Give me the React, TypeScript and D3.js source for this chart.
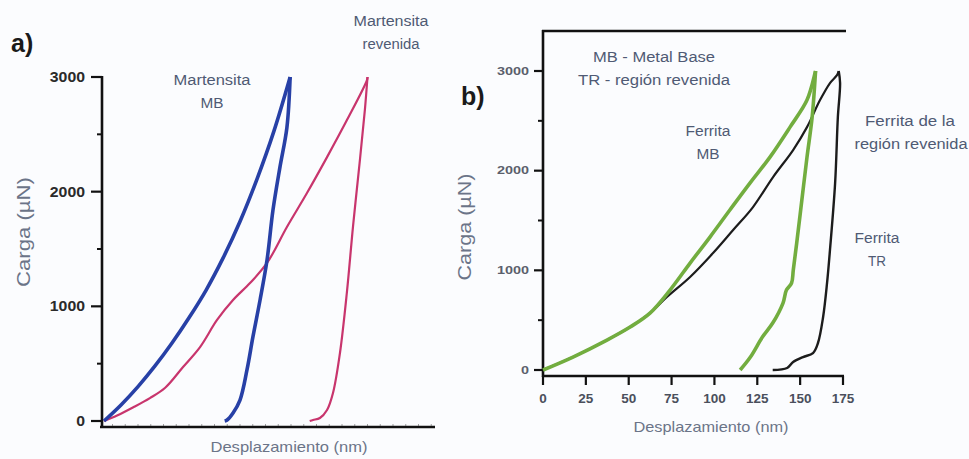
import React from "react";
import * as d3 from "d3";

// ---- Data (depth nm, load µN) ----
// Panel a)
const martMBLoad: [number, number][] = [
  [0, 0], [10, 140], [20, 300], [30, 480], [40, 680], [50, 900], [60, 1140], [70, 1420],
  [80, 1740], [90, 2110], [100, 2530], [109.5, 3000],
];
const martMBUnload: [number, number][] = [
  [109.5, 3000], [107.6, 2560], [103.5, 2214], [99.4, 1840], [95.9, 1404], [91.8, 1055],
  [87.6, 733], [84.1, 445], [80, 183], [75.9, 70], [72.4, 9], [71, 0],
];
const martRevLoad: [number, number][] = [
  [0, 0], [8, 50], [17, 118], [27, 200], [36, 290], [46.5, 471], [56.5, 645], [66.5, 881],
  [75.9, 1055], [85.9, 1203], [95.9, 1378], [107.6, 1692], [119.4, 1988], [131.2, 2301],
  [142.9, 2624], [154.7, 2973], [155, 3000],
];
const martRevUnload: [number, number][] = [
  [155, 3000], [153.5, 2720], [150.6, 2285], [146.5, 1700], [142.9, 1125], [138.8, 593],
  [134.7, 244], [131.2, 96], [127, 26], [123, 9], [121, 0],
];
// Panel b)
const ferrMBLoad: [number, number][] = [
  [0, 0], [17.5, 130], [37.3, 300], [50.8, 431], [62.4, 571], [74.1, 802], [85.8, 1073],
  [97.4, 1334], [109, 1605], [120.7, 1875], [132.4, 2136], [144.1, 2437], [154, 2708],
  [158.7, 2979], [159, 3000],
];
const ferrMBUnload: [number, number][] = [
  [159, 3000], [157, 2538], [154, 2136], [151, 1705], [148, 1274], [146, 1003], [145, 873],
  [142, 802], [140, 672], [134, 471], [128, 331], [121, 130], [115, 0],
];
const ferrTRLoad: [number, number][] = [
  [0, 0], [17.5, 130], [37.3, 300], [50.8, 431], [62.4, 571], [72.3, 732], [85.8, 933],
  [99.2, 1173], [110.9, 1404], [122.5, 1635], [134.2, 1936], [145.9, 2207], [154, 2437],
  [161.6, 2708], [167.4, 2879], [171.5, 2959], [172.5, 3000],
];
const ferrTRUnload: [number, number][] = [
  [172.5, 3000], [173.3, 2879], [172, 2538], [170.4, 1875], [167.4, 1204], [165.7, 873],
  [163.4, 532], [160.4, 271], [157.5, 170], [151.7, 130], [145.9, 80], [142.4, 20], [134, 0],
];

const yTicks = [0, 1000, 2000, 3000];
const yMinorTicks = [500, 1500, 2500];
const xTicksB = [0, 25, 50, 75, 100, 125, 150, 175];

const AXIS_TITLE = "#6b7488";
const NOTE = "#4f5a74";
const FONT = "Liberation Sans, Arial, sans-serif";

type NoteProps = { x: number; y: number; w: number; s?: number; fill?: string; children: string };
function Note({ x, y, w, s = 14, fill = NOTE, children }: NoteProps) {
  return (
    <text x={x} y={y} textAnchor="middle" fontSize={s} fill={fill} textLength={w} lengthAdjust="spacingAndGlyphs">
      {children}
    </text>
  );
}

export default function App() {
  const xa = d3.scaleLinear().domain([0, 195]).range([104, 435.5]);
  const ya = d3.scaleLinear().domain([0, 3000]).range([421, 77]);
  const xb = d3.scaleLinear().domain([0, 175]).range([543, 843]);
  const yb = d3.scaleLinear().domain([0, 3000]).range([370, 71]);

  const la = d3.line<[number, number]>().x(d => xa(d[0])).y(d => ya(d[1])).curve(d3.curveCatmullRom);
  const lb = d3.line<[number, number]>().x(d => xb(d[0])).y(d => yb(d[1])).curve(d3.curveCatmullRom);

  const xaMinor = d3.range(5, 195, 7.5);

  return (
    <svg width={969} height={459} style={{ position: "absolute", left: 0, top: 0, background: "#fbfcfe" }} fontFamily={FONT}>
      {/* Panel a */}
      <text x={11} y={52} fontSize={25} fontWeight="bold" fill="#1a1a1a">a)</text>
      <line x1={102} x2={102} y1={76} y2={428} stroke="#111" strokeWidth={2.6} />
      <line x1={100} x2={435} y1={427} y2={427} stroke="#111" strokeWidth={2.6} />
      {xaMinor.map(t => (
        <line key={"xm" + t} x1={xa(t)} x2={xa(t)} y1={426} y2={424} stroke="#333" strokeWidth={1} opacity={0.45} />
      ))}
      {yTicks.map(t => (
        <g key={"ya" + t}>
          <line x1={91} x2={102} y1={ya(t)} y2={ya(t)} stroke="#111" strokeWidth={2.2} />
          <text x={85} y={ya(t)} dy="0.36em" textAnchor="end" fontSize={14} fontWeight="bold" fill="#2a2a2a"
            textLength={String(t).length * 8.8} lengthAdjust="spacingAndGlyphs">{t}</text>
        </g>
      ))}
      {yMinorTicks.map(t => (
        <line key={"yam" + t} x1={97} x2={102} y1={ya(t)} y2={ya(t)} stroke="#111" strokeWidth={2} />
      ))}
      <text transform={`translate(30,232) rotate(-90)`} textAnchor="middle" fontSize={18} fill={AXIS_TITLE}
        textLength={110} lengthAdjust="spacingAndGlyphs">Carga (µN)</text>
      <Note x={289} y={452} w={157} s={14.5} fill={AXIS_TITLE}>Desplazamiento (nm)</Note>

      <path d={la(martRevLoad) || ""} fill="none" stroke="#c8356d" strokeWidth={2.2} />
      <path d={la(martRevUnload) || ""} fill="none" stroke="#c8356d" strokeWidth={2.2} />
      <path d={la(martMBLoad) || ""} fill="none" stroke="#2740a6" strokeWidth={3.6} />
      <path d={la(martMBUnload) || ""} fill="none" stroke="#2740a6" strokeWidth={3.6} />

      <Note x={212} y={85} w={77}>Martensita</Note>
      <Note x={212} y={108} w={23}>MB</Note>
      <Note x={391} y={26} w={75}>Martensita</Note>
      <Note x={391} y={49} w={57}>revenida</Note>

      {/* Panel b */}
      <text x={461} y={105} fontSize={25} fontWeight="bold" fill="#1a1a1a">b)</text>
      <line x1={543} x2={543} y1={30} y2={377} stroke="#111" strokeWidth={2.6} />
      <line x1={542} x2={846} y1={31} y2={31} stroke="#111" strokeWidth={2.6} />
      <line x1={542} x2={844} y1={376} y2={376} stroke="#111" strokeWidth={2.6} />
      {xTicksB.map(t => (
        <g key={"xb" + t}>
          <line x1={xb(t)} x2={xb(t)} y1={376} y2={385} stroke="#111" strokeWidth={2.2} />
          <text x={xb(t)} y={403} textAnchor="middle" fontSize={13.5} fontWeight="bold" fill="#4a4f5c">{t}</text>
        </g>
      ))}
      {yTicks.map(t => (
        <g key={"yb" + t}>
          <line x1={534} x2={543} y1={yb(t)} y2={yb(t)} stroke="#111" strokeWidth={2.2} />
          <text x={529} y={yb(t)} dy="0.36em" textAnchor="end" fontSize={10.5} fontWeight="bold" fill="#5a5f6c"
            textLength={String(t).length * 8} lengthAdjust="spacingAndGlyphs">{t}</text>
        </g>
      ))}
      {yMinorTicks.map(t => (
        <line key={"ybm" + t} x1={538} x2={543} y1={yb(t)} y2={yb(t)} stroke="#111" strokeWidth={2} />
      ))}
      <text transform={`translate(471,227) rotate(-90)`} textAnchor="middle" fontSize={18} fill={AXIS_TITLE}
        textLength={107} lengthAdjust="spacingAndGlyphs">Carga (µN)</text>
      <Note x={711} y={432} w={155} s={14.5} fill={AXIS_TITLE}>Desplazamiento (nm)</Note>

      <path d={lb(ferrTRLoad) || ""} fill="none" stroke="#1c1c1c" strokeWidth={2.2} />
      <path d={lb(ferrTRUnload) || ""} fill="none" stroke="#1c1c1c" strokeWidth={2.4} />
      <path d={lb(ferrMBLoad) || ""} fill="none" stroke="#72ad3f" strokeWidth={3.6} />
      <path d={lb(ferrMBUnload) || ""} fill="none" stroke="#72ad3f" strokeWidth={3.6} />

      <Note x={654} y={62} w={122}>MB - Metal Base</Note>
      <Note x={654} y={85} w={152}>TR - región revenida</Note>
      <Note x={708} y={136} w={45}>Ferrita</Note>
      <Note x={708} y={159} w={23}>MB</Note>
      <Note x={910} y={126} w={90}>Ferrita de la</Note>
      <Note x={911} y={149} w={113}>región revenida</Note>
      <Note x={877} y={243} w={45}>Ferrita</Note>
      <Note x={877} y={266} w={18}>TR</Note>
    </svg>
  );
}
